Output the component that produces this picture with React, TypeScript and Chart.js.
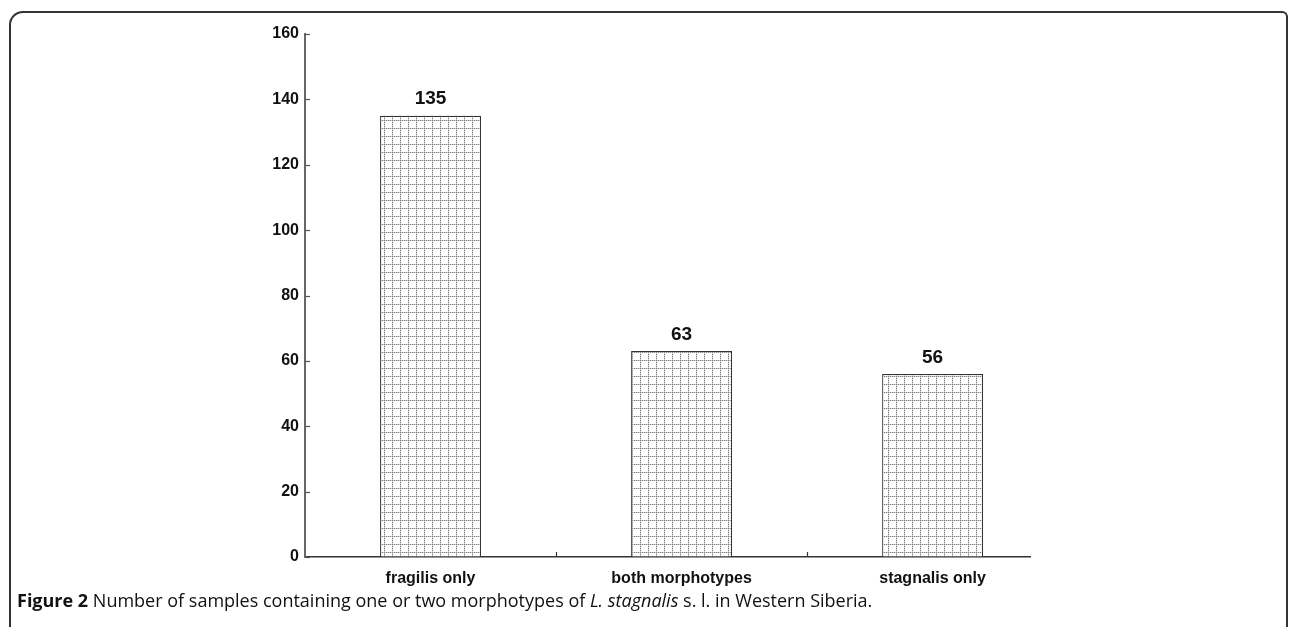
import React, { useEffect, useRef } from "react";
import { Chart, registerables } from "chart.js";

Chart.register(...registerables);

const categories: string[] = ["fragilis only", "both morphotypes", "stagnalis only"];
const sampleCounts: number[] = [135, 63, 56];
const yTickValues: number[] = [0, 20, 40, 60, 80, 100, 120, 140, 160];
const dividerPositions: number[] = [0.5, 1.5];

function makePattern(): CanvasPattern | string {
  const c = document.createElement("canvas");
  const s = 8;
  c.width = s;
  c.height = s;
  const g = c.getContext("2d");
  if (!g) return "#fff";
  g.fillStyle = "#ffffff";
  g.fillRect(0, 0, s, s);
  for (let i = 0; i < s; i++) {
    g.fillStyle = i % 2 === 0 ? "#7c7c7c" : "#d2d2d2";
    g.fillRect(i, 0, 1, 1);
    g.fillRect(0, i, 1, 1);
  }
  const p = g.createPattern(c, "repeat");
  return p || "#fff";
}

const inwardTicks = {
  id: "inwardTicks",
  afterDraw(chart: any) {
    const { ctx, chartArea, scales } = chart;
    ctx.save();
    ctx.strokeStyle = "#555";
    ctx.lineWidth = 1.2;
    yTickValues.forEach((v) => {
      const py = Math.round(scales.y.getPixelForValue(v)) + 0.5;
      ctx.beginPath();
      ctx.moveTo(chartArea.left, py);
      ctx.lineTo(chartArea.left + 5, py);
      ctx.stroke();
    });
    ctx.strokeStyle = "#333";
    dividerPositions.forEach((v) => {
      const px = Math.round(scales.x.getPixelForValue(v)) + 0.5;
      ctx.beginPath();
      ctx.moveTo(px, chartArea.bottom);
      ctx.lineTo(px, chartArea.bottom - 5);
      ctx.stroke();
    });
    ctx.restore();
  },
};

const valueLabels = {
  id: "valueLabels",
  afterDatasetsDraw(chart: any) {
    const { ctx } = chart;
    const meta = chart.getDatasetMeta(0);
    ctx.save();
    ctx.font = "bold 19px 'Liberation Sans', Arial, sans-serif";
    ctx.fillStyle = "#111";
    ctx.textAlign = "center";
    ctx.textBaseline = "bottom";
    meta.data.forEach((bar: any, i: number) => {
      ctx.fillText(String(sampleCounts[i]), bar.x, bar.y - 7);
    });
    ctx.restore();
  },
};

export default function App() {
  const ref = useRef<HTMLCanvasElement | null>(null);

  useEffect(() => {
    if (!ref.current) return;
    const pattern = makePattern();
    const chart = new Chart(ref.current, {
      type: "bar",
      data: {
        datasets: [
          {
            data: sampleCounts.map((v, i) => ({ x: i, y: v })),
            backgroundColor: pattern as any,
            borderColor: "#333",
            borderWidth: 1.2,
            barPercentage: 0.402,
            categoryPercentage: 1,
          },
        ],
      },
      options: {
        animation: false,
        responsive: false,
        devicePixelRatio: 1,
        layout: { padding: { left: 245, right: 260, top: 34, bottom: 0 } },
        plugins: { legend: { display: false }, tooltip: { enabled: false } },
        scales: {
          x: {
            type: "linear",
            min: -0.5,
            max: 2.388,
            offset: false,
            afterBuildTicks: (scale: any) => {
              scale.ticks = categories.map((_, i) => ({ value: i }));
            },
            afterFit: (scale: any) => {
              scale.height = 33;
            },
            ticks: {
              callback: (v: any) => categories[v as number] ?? "",
              font: { family: "'Liberation Sans', Arial, sans-serif", size: 16, weight: "bold" },
              color: "#111",
              padding: 12,
              maxRotation: 0,
              autoSkip: false,
            },
            grid: { display: true, offset: false, drawOnChartArea: false, drawTicks: false },
            border: { display: true, color: "#333", width: 1.5 },
          },
          y: {
            min: 0,
            max: 160,
            afterBuildTicks: (scale: any) => {
              scale.ticks = yTickValues.map((v) => ({ value: v }));
            },
            afterFit: (scale: any) => {
              scale.width = 60;
            },
            ticks: {
              font: { family: "'Liberation Sans', Arial, sans-serif", size: 16, weight: "bold" },
              color: "#111",
              padding: 6,
            },
            grid: { display: true, drawOnChartArea: false, drawTicks: false },
            border: { display: true, color: "#666", width: 2 },
          },
        },
      },
      plugins: [inwardTicks, valueLabels],
    });
    return () => chart.destroy();
  }, []);

  return (
    <div
      style={{
        position: "fixed",
        left: 0,
        top: 0,
        width: 1290,
        height: 627,
        overflow: "hidden",
        background: "#fff",
      }}
    >
      <div
        style={{
          position: "absolute",
          left: 9,
          top: 11,
          width: 1279,
          height: 640,
          border: "2px solid #333",
          borderBottom: "none",
          borderRadius: "14px 6px 0 0",
          boxSizing: "border-box",
        }}
      />
      <canvas
        ref={ref}
        width={1290}
        height={590}
        style={{ position: "absolute", left: 0, top: 0, width: 1290, height: 590 }}
      />
      <div
        style={{
          position: "absolute",
          left: 17,
          top: 588,
          fontFamily: "'Open Sans', 'Noto Sans', sans-serif",
          fontSize: 18,
          color: "#111",
          whiteSpace: "nowrap",
        }}
      >
        <b>Figure 2</b> Number of samples containing one or two morphotypes of <i>L. stagnalis</i> s. l. in Western Siberia.
      </div>
    </div>
  );
}
